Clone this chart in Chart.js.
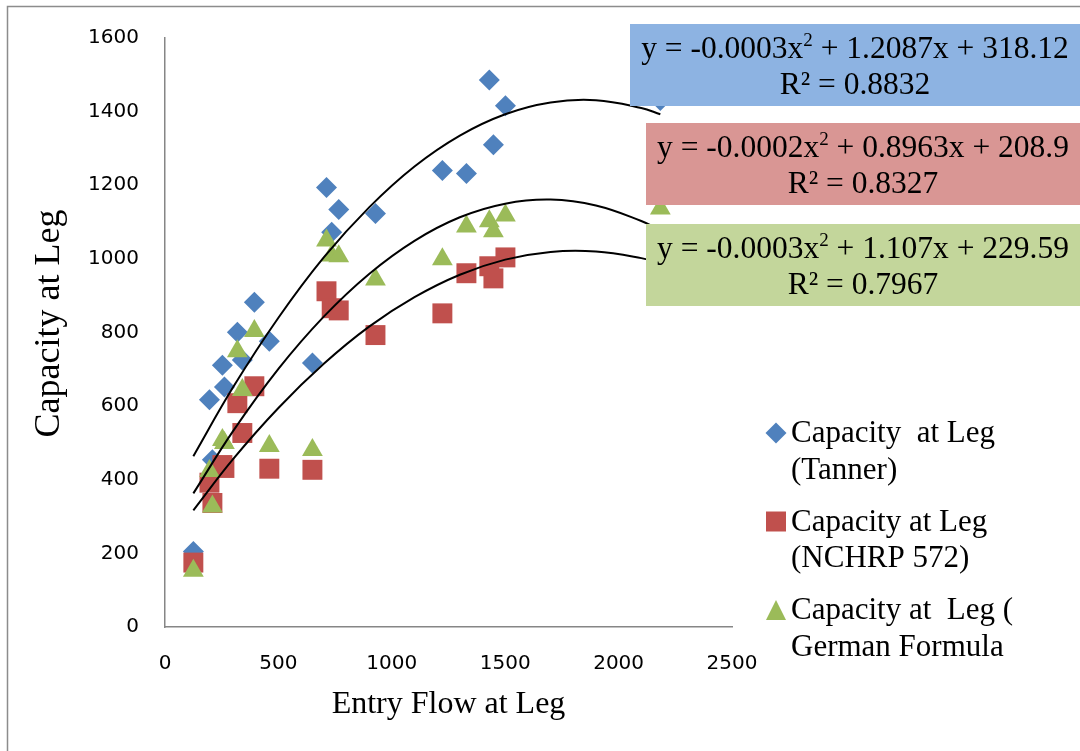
<!DOCTYPE html>
<html>
<head>
<meta charset="utf-8">
<script src="https://cdn.jsdelivr.net/npm/chart.js"></script>
<style>
  html, body { margin: 0; padding: 0; background: #fff; }
</style>
</head>
<body>
<canvas id="chart" width="1080" height="751"></canvas>
<script>
// entry flow (x) shared by the three capacity series
const entryFlow = [125, 196, 209, 253, 262, 319, 341, 394, 460, 650, 712, 735, 766, 928, 1223, 1329, 1430, 1448, 1501, 2184];
const tanner = [205, 617, 454, 711, 652, 801, 725, 882, 776, 717, 1194, 1072, 1134, 1123, 1240, 1232, 1486, 1310, 1416, 1430];
const nchrp = [175, 392, 337, 440, 432, 608, 527, 654, 430, 427, 912, 866, 860, 793, 852, 961, 980, 947, 1004, 1000];
const german = [153, 424, 327, 508, 500, 749, 644, 804, 492, 481, 1050, 1009, 1007, 944, 999, 1088, 1102, 1075, 1118, 1137];

// polynomial trendlines
const trendX = [125, 300, 500, 700, 900, 1100, 1300, 1500, 1700, 1900, 2100, 2184];
const tannerTrend = [464, 651, 840, 1004, 1140, 1251, 1335, 1393, 1425, 1431, 1410, 1393];
const nchrpTrend = [317, 456, 595, 715, 816, 896, 957, 998, 1019, 1020, 1002, 988];
const germanTrend = [363, 532, 701, 843, 959, 1049, 1113, 1150, 1161, 1145, 1103, 1078];

const seriesNames = [['Capacity  at Leg', '(Tanner)'], ['Capacity at Leg', '(NCHRP 572)'], ['Capacity at  Leg (', 'German Formula']];
const eqA = ['-0.0003', '-0.0002', '-0.0003'];
const eqB = ['1.2087', '0.8963', '1.107'];
const eqC = ['318.12', '208.9', '229.59'];
const rSquared = ['0.8832', '0.8327', '0.7967'];

const xTitle = 'Entry Flow at Leg';
const yTitle = '  Capacity at Leg';

const colors = ['#4F81BD', '#C0504D', '#9BBB59'];
const boxFills = ['#8DB3E2', '#D99694', '#C3D69B'];
const serif = '"Liberation Serif", "Times New Roman", serif';

function pts(xs, ys) {
  return xs.map((x, i) => ({ x: x, y: ys[i] }));
}

function marker(ctx, kind, x, y) {
  ctx.beginPath();
  if (kind === 0) {
    ctx.moveTo(x - 10.5, y); ctx.lineTo(x, y - 10.5); ctx.lineTo(x + 10.5, y); ctx.lineTo(x, y + 10.5);
  } else if (kind === 1) {
    ctx.rect(x - 10, y - 10, 20, 20);
  } else {
    ctx.moveTo(x, y - 10); ctx.lineTo(x + 10, y + 10); ctx.lineTo(x - 10, y + 10);
  }
  ctx.closePath();
  ctx.fill();
}

const extras = {
  id: 'extras',
  beforeDraw(chart) {
    const ctx = chart.ctx;
    ctx.save();
    ctx.fillStyle = '#fff';
    ctx.fillRect(0, 0, chart.width, chart.height);
    ctx.strokeStyle = '#8c8c8c';
    ctx.lineWidth = 1.5;
    ctx.strokeRect(7.5, 6.5, chart.width + 20, chart.height + 20);
    ctx.restore();
  },
  afterDraw(chart) {
    const ctx = chart.ctx;
    ctx.save();
    // equation boxes
    const boxes = [[630, 24, 450], [646, 123, 434], [646, 224, 434]];
    boxes.forEach((b, i) => {
      ctx.fillStyle = boxFills[i];
      ctx.fillRect(b[0], b[1], b[2], 82);
      const cx = b[0] + b[2] / 2;
      const big = '31.5px ' + serif, small = '19px ' + serif;
      const p1 = 'y = ' + eqA[i] + 'x';
      const p2 = '2';
      const p3 = ' + ' + eqB[i] + 'x + ' + eqC[i];
      ctx.font = big;
      const w1 = ctx.measureText(p1).width, w3 = ctx.measureText(p3).width;
      ctx.font = small;
      const w2 = ctx.measureText(p2).width;
      let x0 = cx - (w1 + w2 + w3) / 2;
      const base = b[1] + 34;
      ctx.fillStyle = '#000';
      ctx.textBaseline = 'alphabetic';
      ctx.textAlign = 'left';
      ctx.font = big; ctx.fillText(p1, x0, base);
      ctx.font = small; ctx.fillText(p2, x0 + w1, base - 12);
      ctx.font = big; ctx.fillText(p3, x0 + w1 + w2, base);
      ctx.textAlign = 'center';
      ctx.fillText('R² = ' + rSquared[i], cx, b[1] + 70);
    });
    // legend
    ctx.font = '31px ' + serif;
    ctx.textAlign = 'left';
    seriesNames.forEach((lines, i) => {
      const y0 = 433 + i * 88.5;
      ctx.fillStyle = colors[i];
      marker(ctx, i, 776, y0);
      ctx.fillStyle = '#000';
      ctx.fillText(lines[0], 791, y0 + 9);
      ctx.fillText(lines[1], 791, y0 + 45.5);
    });
    ctx.restore();
  }
};

const trendStyle = { showLine: true, pointRadius: 0, borderColor: '#000', borderWidth: 2, tension: 0.4, fill: false, order: 0 };
const tickFont = { family: '"DejaVu Sans", sans-serif', size: 20 };
const plain = v => String(v);

new Chart(document.getElementById('chart'), {
  type: 'scatter',
  data: {
    datasets: [
      Object.assign({ label: 'Poly. (Tanner)', data: pts(trendX, tannerTrend) }, trendStyle),
      Object.assign({ label: 'Poly. (NCHRP 572)', data: pts(trendX, nchrpTrend) }, trendStyle),
      Object.assign({ label: 'Poly. (German)', data: pts(trendX, germanTrend) }, trendStyle),
      { label: seriesNames[2].join(' '), data: pts(entryFlow, german), pointStyle: 'triangle', pointRadius: 12, backgroundColor: colors[2], borderWidth: 0, order: 1 },
      { label: seriesNames[1].join(' '), data: pts(entryFlow, nchrp), pointStyle: 'rect', pointRadius: 14.1, backgroundColor: colors[1], borderWidth: 0, order: 2 },
      { label: seriesNames[0].join(' '), data: pts(entryFlow, tanner), pointStyle: 'rectRot', pointRadius: 10.5, backgroundColor: colors[0], borderWidth: 0, order: 3 }
    ]
  },
  options: {
    responsive: false,
    animation: false,
    events: [],
    layout: { padding: { left: 10, top: 35, right: 348, bottom: 0 } },
    plugins: { legend: { display: false }, tooltip: { enabled: false } },
    scales: {
      x: {
        type: 'linear', min: 0, max: 2500,
        afterFit(s) { s.height = 124; },
        grid: { display: false, drawTicks: false },
        border: { display: true, color: '#868686', width: 1.5 },
        ticks: { stepSize: 500, padding: 25, color: '#000', font: tickFont, callback: plain },
        title: { display: true, text: xTitle, color: '#000', font: { family: serif, size: 32 }, padding: { top: 0, bottom: 27 } }
      },
      y: {
        type: 'linear', min: 0, max: 1600,
        afterFit(s) { s.width = 155; },
        grid: { display: false, drawTicks: false },
        border: { display: true, color: '#868686', width: 1.5 },
        ticks: { stepSize: 200, padding: 26, color: '#000', font: tickFont, callback: plain },
        title: { display: true, text: yTitle, color: '#000', font: { family: serif, size: 36 }, padding: { top: 18, bottom: 0 } }
      }
    }
  },
  plugins: [extras]
});
</script>
</body>
</html>
